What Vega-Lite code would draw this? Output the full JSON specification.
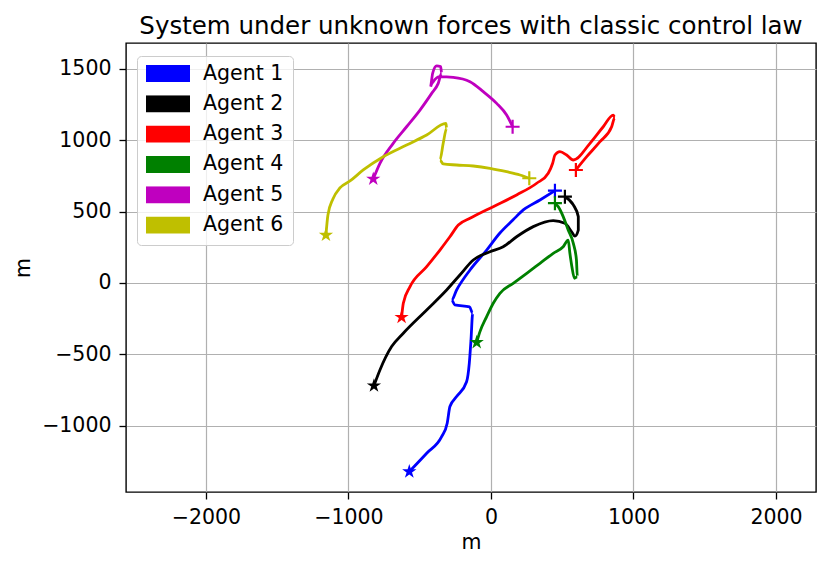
{
  "$schema": "https://vega.github.io/schema/vega-lite/v6.json",
  "autosize": {"type": "none"},
  "width": 690,
  "height": 449,
  "padding": {"left": 126, "top": 43, "right": 14, "bottom": 78},
  "background": "white",
  "title": {"text": "System under unknown forces with classic control law", "fontSize": 24.5, "fontWeight": "normal", "anchor": "middle", "frame": "group", "offset": 4, "color": "black"},
  "config": {
    "font": "DejaVu Sans",
    "view": {"stroke": "black", "strokeWidth": 1.4},
    "axis": {"gridColor": "#b0b0b0", "gridWidth": 1.2, "gridOpacity": 1, "domain": false, "tickColor": "black", "tickSize": 7, "tickWidth": 1.3, "labelFontSize": 20.5, "labelColor": "black", "titleFontSize": 20.5, "titleFontWeight": "normal", "titleColor": "black", "format": "d"}
  },
  "datasets": {
    "paths": [
      {"agent": "Agent 1", "i": 0, "x": -573, "y": -1322},
      {"agent": "Agent 1", "i": 1, "x": -451, "y": -1193},
      {"agent": "Agent 1", "i": 2, "x": -346, "y": -1077},
      {"agent": "Agent 1", "i": 3, "x": -307, "y": -983},
      {"agent": "Agent 1", "i": 4, "x": -288, "y": -866},
      {"agent": "Agent 1", "i": 5, "x": -241, "y": -796},
      {"agent": "Agent 1", "i": 6, "x": -171, "y": -692},
      {"agent": "Agent 1", "i": 7, "x": -152, "y": -563},
      {"agent": "Agent 1", "i": 8, "x": -140, "y": -399},
      {"agent": "Agent 1", "i": 9, "x": -128, "y": -212},
      {"agent": "Agent 1", "i": 10, "x": -150, "y": -168},
      {"agent": "Agent 1", "i": 11, "x": -253, "y": -154},
      {"agent": "Agent 1", "i": 12, "x": -276, "y": -119},
      {"agent": "Agent 1", "i": 13, "x": -241, "y": -49},
      {"agent": "Agent 1", "i": 14, "x": -147, "y": 91},
      {"agent": "Agent 1", "i": 15, "x": -30, "y": 231},
      {"agent": "Agent 1", "i": 16, "x": 63, "y": 350},
      {"agent": "Agent 1", "i": 17, "x": 154, "y": 441},
      {"agent": "Agent 1", "i": 18, "x": 227, "y": 512},
      {"agent": "Agent 1", "i": 19, "x": 344, "y": 582},
      {"agent": "Agent 1", "i": 20, "x": 449, "y": 647},
      {"agent": "Agent 2", "i": 0, "x": -821, "y": -720},
      {"agent": "Agent 2", "i": 1, "x": -779, "y": -610},
      {"agent": "Agent 2", "i": 2, "x": -697, "y": -446},
      {"agent": "Agent 2", "i": 3, "x": -615, "y": -352},
      {"agent": "Agent 2", "i": 4, "x": -451, "y": -189},
      {"agent": "Agent 2", "i": 5, "x": -311, "y": -49},
      {"agent": "Agent 2", "i": 6, "x": -218, "y": 56},
      {"agent": "Agent 2", "i": 7, "x": -124, "y": 161},
      {"agent": "Agent 2", "i": 8, "x": -7, "y": 219},
      {"agent": "Agent 2", "i": 9, "x": 86, "y": 254},
      {"agent": "Agent 2", "i": 10, "x": 180, "y": 324},
      {"agent": "Agent 2", "i": 11, "x": 297, "y": 395},
      {"agent": "Agent 2", "i": 12, "x": 437, "y": 437},
      {"agent": "Agent 2", "i": 13, "x": 519, "y": 418},
      {"agent": "Agent 2", "i": 14, "x": 566, "y": 359},
      {"agent": "Agent 2", "i": 15, "x": 589, "y": 329},
      {"agent": "Agent 2", "i": 16, "x": 613, "y": 371},
      {"agent": "Agent 2", "i": 17, "x": 613, "y": 465},
      {"agent": "Agent 2", "i": 18, "x": 578, "y": 547},
      {"agent": "Agent 2", "i": 19, "x": 519, "y": 605},
      {"agent": "Agent 3", "i": 0, "x": -627, "y": -240},
      {"agent": "Agent 3", "i": 1, "x": -615, "y": -142},
      {"agent": "Agent 3", "i": 2, "x": -568, "y": -26},
      {"agent": "Agent 3", "i": 3, "x": -451, "y": 114},
      {"agent": "Agent 3", "i": 4, "x": -358, "y": 231},
      {"agent": "Agent 3", "i": 5, "x": -288, "y": 324},
      {"agent": "Agent 3", "i": 6, "x": -229, "y": 406},
      {"agent": "Agent 3", "i": 7, "x": -147, "y": 453},
      {"agent": "Agent 3", "i": 8, "x": 16, "y": 535},
      {"agent": "Agent 3", "i": 9, "x": 180, "y": 617},
      {"agent": "Agent 3", "i": 10, "x": 321, "y": 699},
      {"agent": "Agent 3", "i": 11, "x": 402, "y": 769},
      {"agent": "Agent 3", "i": 12, "x": 433, "y": 839},
      {"agent": "Agent 3", "i": 13, "x": 449, "y": 897},
      {"agent": "Agent 3", "i": 14, "x": 484, "y": 920},
      {"agent": "Agent 3", "i": 15, "x": 531, "y": 897},
      {"agent": "Agent 3", "i": 16, "x": 578, "y": 862},
      {"agent": "Agent 3", "i": 17, "x": 695, "y": 979},
      {"agent": "Agent 3", "i": 18, "x": 788, "y": 1095},
      {"agent": "Agent 3", "i": 19, "x": 858, "y": 1177},
      {"agent": "Agent 3", "i": 20, "x": 870, "y": 1160},
      {"agent": "Agent 3", "i": 21, "x": 847, "y": 1095},
      {"agent": "Agent 3", "i": 22, "x": 765, "y": 990},
      {"agent": "Agent 3", "i": 23, "x": 672, "y": 885},
      {"agent": "Agent 3", "i": 24, "x": 596, "y": 792},
      {"agent": "Agent 4", "i": 0, "x": -100, "y": -416},
      {"agent": "Agent 4", "i": 1, "x": -77, "y": -341},
      {"agent": "Agent 4", "i": 2, "x": -30, "y": -236},
      {"agent": "Agent 4", "i": 3, "x": 16, "y": -142},
      {"agent": "Agent 4", "i": 4, "x": 63, "y": -72},
      {"agent": "Agent 4", "i": 5, "x": 156, "y": -2},
      {"agent": "Agent 4", "i": 6, "x": 251, "y": 68},
      {"agent": "Agent 4", "i": 7, "x": 344, "y": 138},
      {"agent": "Agent 4", "i": 8, "x": 437, "y": 208},
      {"agent": "Agent 4", "i": 9, "x": 507, "y": 254},
      {"agent": "Agent 4", "i": 10, "x": 542, "y": 301},
      {"agent": "Agent 4", "i": 11, "x": 554, "y": 208},
      {"agent": "Agent 4", "i": 12, "x": 568, "y": 114},
      {"agent": "Agent 4", "i": 13, "x": 586, "y": 33},
      {"agent": "Agent 4", "i": 14, "x": 606, "y": 44},
      {"agent": "Agent 4", "i": 15, "x": 600, "y": 161},
      {"agent": "Agent 4", "i": 16, "x": 578, "y": 278},
      {"agent": "Agent 4", "i": 17, "x": 542, "y": 371},
      {"agent": "Agent 4", "i": 18, "x": 507, "y": 465},
      {"agent": "Agent 4", "i": 19, "x": 472, "y": 535},
      {"agent": "Agent 4", "i": 20, "x": 449, "y": 559},
      {"agent": "Agent 5", "i": 0, "x": -826, "y": 729},
      {"agent": "Agent 5", "i": 1, "x": -779, "y": 839},
      {"agent": "Agent 5", "i": 2, "x": -686, "y": 979},
      {"agent": "Agent 5", "i": 3, "x": -592, "y": 1095},
      {"agent": "Agent 5", "i": 4, "x": -498, "y": 1212},
      {"agent": "Agent 5", "i": 5, "x": -416, "y": 1329},
      {"agent": "Agent 5", "i": 6, "x": -370, "y": 1399},
      {"agent": "Agent 5", "i": 7, "x": -346, "y": 1470},
      {"agent": "Agent 5", "i": 8, "x": -353, "y": 1516},
      {"agent": "Agent 5", "i": 9, "x": -381, "y": 1521},
      {"agent": "Agent 5", "i": 10, "x": -409, "y": 1470},
      {"agent": "Agent 5", "i": 11, "x": -423, "y": 1376},
      {"agent": "Agent 5", "i": 12, "x": -405, "y": 1411},
      {"agent": "Agent 5", "i": 13, "x": -358, "y": 1446},
      {"agent": "Agent 5", "i": 14, "x": -265, "y": 1441},
      {"agent": "Agent 5", "i": 15, "x": -147, "y": 1411},
      {"agent": "Agent 5", "i": 16, "x": -54, "y": 1341},
      {"agent": "Agent 5", "i": 17, "x": 40, "y": 1259},
      {"agent": "Agent 5", "i": 18, "x": 110, "y": 1177},
      {"agent": "Agent 5", "i": 19, "x": 152, "y": 1095},
      {"agent": "Agent 6", "i": 0, "x": -1158, "y": 336},
      {"agent": "Agent 6", "i": 1, "x": -1144, "y": 477},
      {"agent": "Agent 6", "i": 2, "x": -1109, "y": 589},
      {"agent": "Agent 6", "i": 3, "x": -1060, "y": 666},
      {"agent": "Agent 6", "i": 4, "x": -989, "y": 715},
      {"agent": "Agent 6", "i": 5, "x": -896, "y": 792},
      {"agent": "Agent 6", "i": 6, "x": -756, "y": 885},
      {"agent": "Agent 6", "i": 7, "x": -592, "y": 967},
      {"agent": "Agent 6", "i": 8, "x": -451, "y": 1037},
      {"agent": "Agent 6", "i": 9, "x": -316, "y": 1119},
      {"agent": "Agent 6", "i": 10, "x": -311, "y": 1084},
      {"agent": "Agent 6", "i": 11, "x": -335, "y": 979},
      {"agent": "Agent 6", "i": 12, "x": -358, "y": 862},
      {"agent": "Agent 6", "i": 13, "x": -335, "y": 834},
      {"agent": "Agent 6", "i": 14, "x": -241, "y": 827},
      {"agent": "Agent 6", "i": 15, "x": -124, "y": 820},
      {"agent": "Agent 6", "i": 16, "x": -7, "y": 804},
      {"agent": "Agent 6", "i": 17, "x": 110, "y": 780},
      {"agent": "Agent 6", "i": 18, "x": 204, "y": 757},
      {"agent": "Agent 6", "i": 19, "x": 269, "y": 734}
    ]
  },
  "data": {"name": "paths"},
  "transform": [
    {"joinaggregate": [{"op": "max", "field": "i", "as": "last"}], "groupby": ["agent"]}
  ],
  "encoding": {
    "x": {"field": "x", "type": "quantitative", "scale": {"domain": [-2561, 2281], "nice": false, "zero": false},
      "axis": {"values": [-2000, -1000, 0, 1000, 2000], "title": "m", "labelPadding": 8, "titlePadding": 5, "labelFlush": false}},
    "y": {"field": "y", "type": "quantitative", "scale": {"domain": [-1465, 1682], "nice": false, "zero": false},
      "axis": {"values": [-1000, -500, 0, 500, 1000, 1500], "title": "m", "labelPadding": 8, "titlePadding": 8, "labelFlush": false}},
    "color": {"field": "agent", "type": "nominal",
      "scale": {"domain": ["Agent 1", "Agent 2", "Agent 3", "Agent 4", "Agent 5", "Agent 6"], "range": ["#0000ff", "#000000", "#ff0000", "#008000", "#bf00bf", "#bfbf00"]}}
  },
  "layer": [
    {
      "mark": {"type": "line", "strokeWidth": 2.8, "interpolate": "monotone"},
      "encoding": {
        "order": {"field": "i", "type": "quantitative"},
        "color": {"field": "agent", "type": "nominal",
          "scale": {"domain": ["Agent 1", "Agent 2", "Agent 3", "Agent 4", "Agent 5", "Agent 6"], "range": ["#0000ff", "#000000", "#ff0000", "#008000", "#bf00bf", "#bfbf00"]},
          "legend": {"title": null, "orient": "none", "legendX": 11, "legendY": 13,
            "symbolType": "M-1,-0.386H1V0.386H-1Z", "symbolSize": 1936, "symbolStrokeWidth": 0, "symbolOpacity": 1,
            "clipHeight": 17, "rowPadding": 9.3, "labelFontSize": 20.5, "labelColor": "black", "labelOffset": 13,
            "padding": 9, "fillColor": "rgba(255,255,255,0.8)", "strokeColor": "#cccccc", "cornerRadius": 4}}
      }
    },
    {
      "transform": [{"filter": "datum.i == 0"}],
      "mark": {"type": "point", "shape": "M0,-1L0.2245,-0.309L0.951,-0.309L0.363,0.118L0.588,0.809L0,0.382L-0.588,0.809L-0.363,0.118L-0.951,-0.309L-0.2245,-0.309Z", "filled": true, "size": 225, "opacity": 1},
      "encoding": {"color": {"field": "agent", "type": "nominal", "legend": null}}
    },
    {
      "transform": [{"filter": "datum.i == datum.last"}],
      "mark": {"type": "point", "shape": "M-1,0H1M0,-1V1", "filled": false, "size": 196, "strokeWidth": 2.2, "opacity": 1},
      "encoding": {"color": {"field": "agent", "type": "nominal", "legend": null}}
    }
  ]
}
